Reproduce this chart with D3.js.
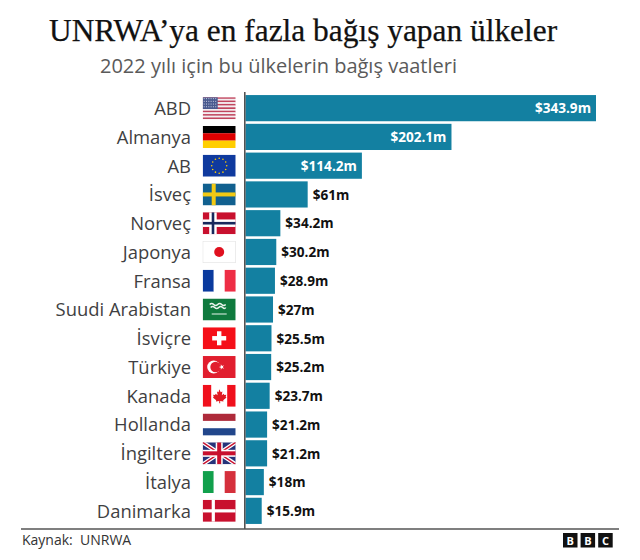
<!DOCTYPE html>
<html>
<head>
<meta charset="utf-8">
<script src="https://cdn.jsdelivr.net/npm/d3@7"></script>
<style>
html,body{margin:0;padding:0;background:#fff;}
text{font-family:"Open Sans","Noto Sans",sans-serif;}
</style>
</head>
<body>
<script>
var countries = ["ABD","Almanya","AB","İsveç","Norveç","Japonya","Fransa","Suudi Arabistan","İsviçre","Türkiye","Kanada","Hollanda","İngiltere","İtalya","Danimarka"];
var pledges = [343.9,202.1,114.2,61,34.2,30.2,28.9,27,25.5,25.2,23.7,21.2,21.2,18,15.9];
var pledgeLabels = ["$343.9m","$202.1m","$114.2m","$61m","$34.2m","$30.2m","$28.9m","$27m","$25.5m","$25.2m","$23.7m","$21.2m","$21.2m","$18m","$15.9m"];
var flagKeys = ["us","de","eu","se","no","jp","fr","sa","ch","tr","ca","nl","gb","it","dk"];

var width = 640, height = 560;
var svg = d3.select("body").append("svg").attr("width",width).attr("height",height).style("display","block");

var x = d3.scaleLinear().domain([0,343.9]).range([245.5,596]);
var y = d3.scaleBand().domain(countries).range([94.2,524.8]).paddingInner(0.09).paddingOuter(0.03);

svg.append("text").attr("x",49).attr("y",41).text("UNRWA’ya en fazla bağış yapan ülkeler")
  .style("font-family","'Liberation Serif',serif").style("font-size","31.4px")
  .attr("fill","#111").attr("stroke","#111").attr("stroke-width",0.25);
svg.append("text").attr("x",100).attr("y",73).text("2022 yılı için bu ülkelerin bağış vaatleri")
  .style("font-size","20px").attr("fill","#5a5a5a");

var rows = svg.selectAll("g.row").data(countries).join("g").attr("class","row");

rows.append("rect")
  .attr("x",x(0))
  .attr("y",function(d){return y(d);})
  .attr("width",function(d,i){return x(pledges[i])-x(0);})
  .attr("height",y.bandwidth())
  .attr("fill","#1380a1");

rows.append("text")
  .attr("x",191)
  .attr("y",function(d){return y(d)+y.bandwidth()/2+0.4;})
  .attr("dy","0.35em")
  .attr("text-anchor","end")
  .style("font-size","18.4px")
  .attr("fill","#3f3f42")
  .text(function(d){return d;});

rows.append("text")
  .attr("x",function(d,i){return pledges[i]>100 ? x(pledges[i])-5 : x(pledges[i])+5;})
  .attr("y",function(d){return y(d)+y.bandwidth()/2+0.5;})
  .attr("dy","0.35em")
  .attr("text-anchor",function(d,i){return pledges[i]>100 ? "end" : "start";})
  .attr("fill",function(d,i){return pledges[i]>100 ? "#fff" : "#111";})
  .style("font-size","13.6px").style("font-weight","700")
  .text(function(d,i){return pledgeLabels[i];});

// flags: every one drawn in a 33x22 box
var fw = 33, fh = 22;
var defs = svg.append("defs");
defs.append("clipPath").attr("id","flagclip").append("rect").attr("width",fw).attr("height",fh);

function r(g,a,b,w,h,c){ g.append("rect").attr("x",a).attr("y",b).attr("width",w).attr("height",h).attr("fill",c); }
function hstripes(g,cols){ cols.forEach(function(c,i){ r(g,0,i*fh/cols.length,fw,fh/cols.length+0.1,c); }); }
function vstripes(g,cols){ cols.forEach(function(c,i){ r(g,i*fw/cols.length,0,fw/cols.length+0.1,fh,c); }); }
function cross(g,c,at,size){ r(g,at,0,size,fh,c); r(g,0,fh/2-size/2,fw,size,c); }
function nordic(g,bg,c,at,size){ r(g,0,0,fw,fh,bg); cross(g,c,at,size); }

var flags = {
  us:function(g){
    d3.range(13).forEach(function(i){ r(g,0,i*fh/13,fw,fh/13+0.05,i%2?"#f3eef0":"#c0455e"); });
    r(g,0,0,15,fh*7/13,"#4a5a8f");
    d3.range(4).forEach(function(j){ d3.range(6).forEach(function(i){ r(g,1+i*2.3,1+j*2.7,1,1,"#c8cde0"); }); });
  },
  de:function(g){ hstripes(g,["#000","#dd0000","#ffce00"]); },
  eu:function(g){
    r(g,0,0,fw,fh,"#0f3a9e");
    d3.range(12).forEach(function(i){
      var a = i*Math.PI/6;
      g.append("circle").attr("cx",fw/2+7.5*Math.cos(a)).attr("cy",fh/2+7.5*Math.sin(a)).attr("r",0.8).attr("fill","#ffcc00");
    });
  },
  se:function(g){ nordic(g,"#11608f","#f2c913",9,4); },
  no:function(g){ nordic(g,"#c8102e","#fff",6.5,7.5); cross(g,"#18285c",9,2.6); },
  jp:function(g){
    r(g,0,0,fw,fh,"#fff");
    g.append("rect").attr("width",fw).attr("height",fh).attr("fill","none").attr("stroke","#ddd").attr("stroke-width",1);
    g.append("circle").attr("cx",fw/2).attr("cy",fh/2).attr("r",5).attr("fill","#e0101f");
  },
  fr:function(g){ vstripes(g,["#0a3a9e","#fff","#ee2e45"]); },
  sa:function(g){
    r(g,0,0,fw,fh,"#0f7a3e");
    g.append("path").attr("d","M7 6q2 -2 4 0t4 0t4 0t4 0M8 9q2 -2 4 0t4 0t4 0t3 0").attr("fill","none").attr("stroke","#e8f3ec").attr("stroke-width",1.6);
    r(g,9,15,15,1,"#e8f3ec");
  },
  ch:function(g){ r(g,0,0,fw,fh,"#f50f18"); r(g,fw/2-2.2,fh/2-7,4.4,14,"#fff"); r(g,fw/2-7,fh/2-2.2,14,4.4,"#fff"); },
  tr:function(g){
    r(g,0,0,fw,fh,"#e11e2e");
    g.append("circle").attr("cx",11).attr("cy",fh/2).attr("r",6.5).attr("fill","#fff");
    g.append("circle").attr("cx",12.8).attr("cy",fh/2).attr("r",5.2).attr("fill","#e11e2e");
    g.append("path").attr("d",d3.symbol().type(d3.symbolStar).size(9)).attr("transform","translate(19,"+fh/2+") rotate(-90)").attr("fill","#fff");
  },
  ca:function(g){
    r(g,0,0,fw,fh,"#fff"); r(g,0,0,8.5,fh,"#f0101c"); r(g,24.5,0,8.5,fh,"#f0101c");
    g.append("path").attr("transform","translate(0.5,0.5)").attr("d","M16 4l1.6 3 1.6-.8-.6 3.8 2-1.6.5 1.4 2-.3-.6 2.2.9.5-3.4 2.7.3 1.3-3.3-.4v2.2h-1v-2.2l-3.3.4.3-1.3-3.4-2.7.9-.5-.6-2.2 2 .3.5-1.4 2 1.6-.6-3.8 1.6.8z").attr("fill","#e01a22");
  },
  nl:function(g){ hstripes(g,["#ae2a3a","#fff","#21468b"]); },
  gb:function(g){
    r(g,0,0,fw,fh,"#26337a");
    var diag = "M0 0L"+fw+" "+fh+"M"+fw+" 0L0 "+fh;
    g.append("path").attr("d",diag).attr("stroke","#fff").attr("stroke-width",4);
    g.append("path").attr("d",diag).attr("stroke","#c8102e").attr("stroke-width",1.4);
    r(g,fw/2-3.5,0,7,fh,"#fff"); r(g,0,fh/2-3.5,fw,7,"#fff");
    r(g,fw/2-2,0,4,fh,"#c8102e"); r(g,0,fh/2-2,fw,4,"#c8102e");
  },
  it:function(g){ vstripes(g,["#11a04c","#fff","#d5303c"]); },
  dk:function(g){ nordic(g,"#c8102e","#fff",9,3.2); }
};

rows.append("g")
  .attr("transform",function(d){return "translate(202.7,"+(y(d)+y.bandwidth()/2-fh/2)+")";})
  .attr("clip-path","url(#flagclip)")
  .each(function(d,i){ flags[flagKeys[i]](d3.select(this)); });

// axis line and footer rule
svg.append("line").attr("x1",244.8).attr("x2",244.8).attr("y1",92).attr("y2",529).attr("stroke","#4a4a4a").attr("stroke-width",1.5);
svg.append("line").attr("x1",21).attr("x2",619).attr("y1",529).attr("y2",529).attr("stroke","#555").attr("stroke-width",1.6);

svg.append("text").attr("x",22).attr("y",545).text("Kaynak:  UNRWA").style("font-size","14px").style("white-space","pre").attr("fill","#333");

var bbc = svg.append("g").selectAll("g").data(["B","B","C"]).join("g")
  .attr("transform",function(d,i){return "translate("+(563+i*17.6)+",533)";});
bbc.append("rect").attr("width",14.5).attr("height",14.5).attr("fill","#111");
bbc.append("text").attr("x",7.25).attr("y",11.5).attr("text-anchor","middle").attr("fill","#fff")
  .style("font-size","11px").style("font-weight","700").text(function(d){return d;});
</script>
</body>
</html>
